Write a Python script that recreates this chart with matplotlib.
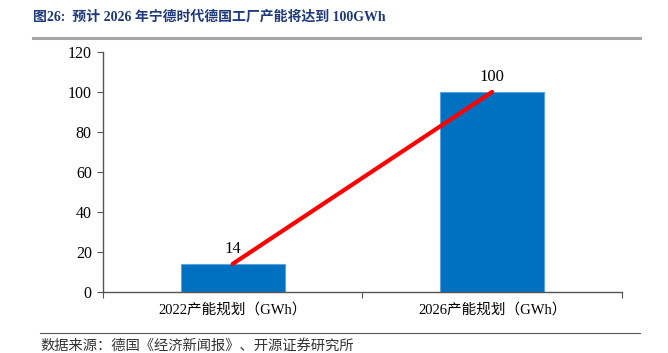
import matplotlib.pyplot as plt
from matplotlib.lines import Line2D

categories = ['2022产能规划（GWh）', '2026产能规划（GWh）']
values = [14, 100]
yticks = [0, 20, 40, 60, 80, 100, 120]

cjk = ['Liberation Serif', 'Noto Sans CJK SC']

fig = plt.figure(figsize=(6.68, 3.53), dpi=100)
ax = fig.add_axes([0.154, 0.173, 0.777, 0.680])

x = list(range(len(categories)))
ax.bar(x, values, width=0.4, color='#0070C0', edgecolor='#5BA3E0', linewidth=0.8, zorder=2)
ax.plot(x, values, color='#FF0000', linewidth=3, solid_capstyle='round', zorder=3)

for xi, v in zip(x, values):
    ax.text(xi, v + 3.5, str(v), ha='center', va='bottom', fontsize=12,
            family='Liberation Serif')

ax.set_xlim(-0.5, 1.5)
ax.set_ylim(0, 120)
ax.set_yticks(yticks)
ax.set_yticklabels([str(t) for t in yticks], family='Liberation Serif', fontsize=11.5)
ax.set_xticks([-0.5, 0.5, 1.5])
ax.set_xticklabels([])
ax.set_xticks(x, minor=True)
ax.set_xticklabels(categories, minor=True, family=cjk, fontsize=10.5)
ax.tick_params(axis='x', which='minor', length=0, pad=8)
ax.tick_params(axis='x', which='major', length=4, direction='out', color='#555555')
ax.tick_params(axis='y', length=4, direction='out', color='#555555', pad=4)

for s in ['top', 'right']:
    ax.spines[s].set_visible(False)
for s in ['left', 'bottom']:
    ax.spines[s].set_color('#555555')
    ax.spines[s].set_linewidth(1)

fig.text(33 / 668, 1 - 17 / 353, '图26:  预计 2026 年宁德时代德国工厂产能将达到 100GWh',
         ha='left', va='center', fontsize=10, fontweight='bold', color='#1F3A7A',
         family=cjk)
fig.add_artist(Line2D([33 / 668, 640 / 668], [1 - 38 / 353, 1 - 38 / 353],
                      color='#A6A6A6', linewidth=2.2))
fig.add_artist(Line2D([40 / 668, 640 / 668], [1 - 333 / 353, 1 - 333 / 353],
                      color='#555555', linewidth=0.8))
fig.text(40 / 668, 1 - 346 / 353, '数据来源：德国《经济新闻报》、开源证券研究所',
         ha='left', va='center', fontsize=10.3, color='#333333', family=cjk)

fig.savefig('out.png', dpi=100)
